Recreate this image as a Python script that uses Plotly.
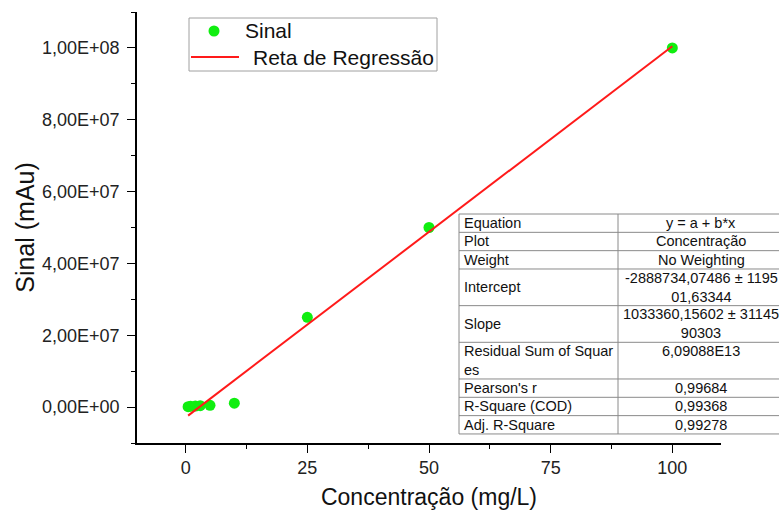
import plotly.graph_objects as go

# Calibration data
concentracao = [0.5, 1, 2, 3, 5, 10, 25, 50, 100]
sinal = [1.0e5, 2.0e5, 3.0e5, 4.0e5, 5.0e5, 1.1e6, 2.5e7, 5.0e7, 1.0e8]

# Linear fit results (y = a + b*x)
intercept = -2888734.07486
slope = 1033360.15602

x_ticks = [0, 25, 50, 75, 100]
x_minor = [12.5, 37.5, 62.5, 87.5]
y_ticks = [0, 2e7, 4e7, 6e7, 8e7, 1e8]
y_ticktext = ["0,00E+00", "2,00E+07", "4,00E+07", "6,00E+07", "8,00E+07", "1,00E+08"]
y_minor = [-1e7, 1e7, 3e7, 5e7, 7e7, 9e7, 1.1e8]

series_names = ["Sinal", "Reta de Regressão"]

# Fit statistics table: (label, value, lines per row)
table_labels = ["Equation", "Plot", "Weight", "Intercept", "Slope",
                "Residual Sum of Squar<br>es", "Pearson's r", "R-Square (COD)", "Adj. R-Square"]
table_values = ["y = a + b*x", "Concentração", "No Weighting",
                "-2888734,07486 ± 1195<br>01,63344", "1033360,15602 ± 31145<br>90303",
                "6,09088E13", "0,99684", "0,99368", "0,99278"]
row_lines = [1, 1, 1, 2, 2, 2, 1, 1, 1]

W, H = 779, 515
ML, MR, MT, MB = 137, 58, 12, 72
PW, PH = W - ML - MR, H - MT - MB

FONT = "Liberation Sans, Arial, sans-serif"
GREEN = "#10ee10"
RED = "#ff1a1a"


def px_x(px):
    return (px - ML) / PW


def px_y(py):
    return (H - MB - py) / PH


x_line = [min(concentracao), max(concentracao)]
y_line = [intercept + slope * v for v in x_line]

fig = go.Figure()
fig.add_trace(go.Scatter(
    x=concentracao, y=sinal, mode="markers", name=series_names[0],
    marker=dict(color=GREEN, size=11, line=dict(width=0)),
))
fig.add_trace(go.Scatter(
    x=x_line, y=y_line, mode="lines", name=series_names[1],
    line=dict(color=RED, width=2),
))

axis_common = dict(
    showgrid=False, zeroline=False, showline=True, linecolor="black", linewidth=1.6,
    ticks="outside", ticklen=8, tickwidth=1.4, tickcolor="black",
    tickfont=dict(family=FONT, size=18, color="#222"),
    mirror=False, automargin=False,
)

fig.update_xaxes(
    range=[-10, 110], tickmode="array", tickvals=x_ticks,
    minor=dict(tickvals=x_minor, ticks="outside", ticklen=4, tickwidth=1.4, tickcolor="black"),
    title=dict(text="Concentração (mg/L)", font=dict(family=FONT, size=23, color="#111"), standoff=11),
    **axis_common,
)
fig.update_yaxes(
    range=[-1e7, 1.1e8], tickmode="array", tickvals=y_ticks, ticktext=y_ticktext,
    minor=dict(tickvals=y_minor, ticks="outside", ticklen=4, tickwidth=1.4, tickcolor="black"),
    title=dict(text="Sinal (mAu)", font=dict(family=FONT, size=25, color="#111"), standoff=0),
    ticklabelstandoff=4,
    **axis_common,
)

shapes = []
annotations = []

# Legend box drawn in paper coordinates
lg_left, lg_right, lg_top, lg_bottom = 189, 437, 18, 71
shapes.append(dict(type="rect", xref="paper", yref="paper",
                   x0=px_x(lg_left), x1=px_x(lg_right), y0=px_y(lg_bottom), y1=px_y(lg_top),
                   fillcolor="white", line=dict(color="#a0a0a0", width=1), layer="above"))
shapes.append(dict(type="circle", xref="paper", yref="paper",
                   x0=px_x(214 - 5.5), x1=px_x(214 + 5.5), y0=px_y(31 + 5.5), y1=px_y(31 - 5.5),
                   fillcolor=GREEN, line=dict(width=0), layer="above"))
shapes.append(dict(type="line", xref="paper", yref="paper",
                   x0=px_x(191), x1=px_x(239), y0=px_y(57), y1=px_y(57),
                   line=dict(color=RED, width=2), layer="above"))
legend_font = dict(family=FONT, size=21, color="#111")
annotations.append(dict(xref="paper", yref="paper", x=px_x(243), y=px_y(31),
                        text=series_names[0], showarrow=False, xanchor="left", yanchor="middle",
                        font=legend_font))
annotations.append(dict(xref="paper", yref="paper", x=px_x(251), y=px_y(57),
                        text=series_names[1], showarrow=False, xanchor="left", yanchor="middle",
                        font=legend_font))

# Statistics table drawn with shapes and annotations
t_left, t_mid, t_right, t_top = 459, 618, 784, 214
line_h = 18.33
total_h = sum(row_lines) * line_h
grid = dict(color="#8a8a8a", width=1)
shapes.append(dict(type="rect", xref="paper", yref="paper",
                   x0=px_x(t_left), x1=px_x(t_right), y0=px_y(t_top + total_h), y1=px_y(t_top),
                   fillcolor="white", line=grid, layer="above"))
shapes.append(dict(type="line", xref="paper", yref="paper",
                   x0=px_x(t_mid), x1=px_x(t_mid), y0=px_y(t_top + total_h), y1=px_y(t_top),
                   line=grid, layer="above"))
cell_font = dict(family=FONT, size=14.5, color="#111")
y_cur = t_top
for label, value, n in zip(table_labels, table_values, row_lines):
    row_h = n * line_h
    if y_cur > t_top:
        shapes.append(dict(type="line", xref="paper", yref="paper",
                           x0=px_x(t_left), x1=px_x(t_right), y0=px_y(y_cur), y1=px_y(y_cur),
                           line=grid, layer="above"))
    value_lines = value.count("<br>") + 1
    label_y = y_cur + row_h / 2
    value_y = y_cur + row_h / 2 if value_lines == n else y_cur + line_h / 2
    annotations.append(dict(xref="paper", yref="paper", x=px_x(t_left + 3), y=px_y(label_y),
                            text=label, showarrow=False, xanchor="left", yanchor="middle",
                            align="left", font=cell_font))
    annotations.append(dict(xref="paper", yref="paper", x=px_x((t_mid + t_right) / 2), y=px_y(value_y),
                            text=value, showarrow=False, xanchor="center", yanchor="middle",
                            align="center", font=cell_font))
    y_cur += row_h

fig.update_layout(
    width=W, height=H, autosize=False,
    margin=dict(l=ML, r=MR, t=MT, b=MB, pad=0),
    paper_bgcolor="white", plot_bgcolor="white",
    font=dict(family=FONT, color="#111"),
    showlegend=False,
    shapes=shapes,
    annotations=annotations,
)

fig.write_html("out.html")
